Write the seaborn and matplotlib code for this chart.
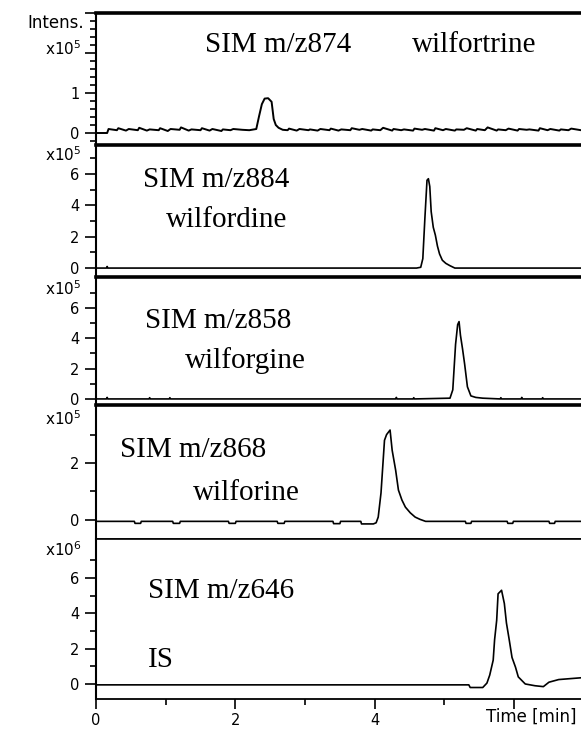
import matplotlib
matplotlib.use("Agg")
import matplotlib.pyplot as plt
import seaborn as sns
import pandas as pd
from matplotlib.ticker import FixedLocator

# ---------------- data (intensity in units of the panel's x10^n) ----------------
t1 = [0.00, 0.16, 0.18, 0.30, 0.32, 0.43, 0.47, 0.60, 0.62, 0.73, 0.77, 0.90, 0.92, 1.03, 1.07,
      1.20, 1.22, 1.33, 1.37, 1.50, 1.52, 1.63, 1.67, 1.80, 1.82, 1.93, 1.97, 2.10, 2.20, 2.30,
      2.34, 2.38, 2.42, 2.47, 2.52, 2.55, 2.58, 2.62, 2.68, 2.75, 2.77, 2.88, 2.92, 3.05, 3.07,
      3.18, 3.22, 3.35, 3.37, 3.48, 3.52, 3.65, 3.67, 3.78, 3.82, 3.95, 3.97, 4.08, 4.12, 4.25,
      4.27, 4.38, 4.42, 4.55, 4.57, 4.68, 4.72, 4.85, 4.87, 4.98, 5.02, 5.15, 5.17, 5.28, 5.32,
      5.45, 5.47, 5.58, 5.62, 5.75, 5.77, 5.88, 5.92, 6.05, 6.07, 6.18, 6.22, 6.35, 6.37, 6.48,
      6.52, 6.65, 6.67, 6.78, 6.82, 6.96]
y1 = [0.00, 0.00, 0.10, 0.07, 0.12, 0.06, 0.10, 0.07, 0.13, 0.06, 0.09, 0.07, 0.12, 0.05, 0.10,
      0.08, 0.14, 0.06, 0.09, 0.07, 0.12, 0.06, 0.10, 0.05, 0.09, 0.07, 0.10, 0.08, 0.07, 0.10,
      0.42, 0.72, 0.86, 0.87, 0.78, 0.35, 0.20, 0.13, 0.08, 0.07, 0.11, 0.06, 0.10, 0.07, 0.09,
      0.06, 0.10, 0.07, 0.11, 0.06, 0.09, 0.07, 0.12, 0.08, 0.10, 0.06, 0.09, 0.07, 0.13, 0.06,
      0.10, 0.07, 0.09, 0.06, 0.11, 0.08, 0.10, 0.06, 0.12, 0.07, 0.10, 0.06, 0.09, 0.08, 0.12,
      0.06, 0.10, 0.07, 0.14, 0.06, 0.09, 0.07, 0.11, 0.06, 0.10, 0.08, 0.09, 0.06, 0.12, 0.07,
      0.10, 0.06, 0.09, 0.07, 0.11, 0.07]

t2 = [0.00, 0.15, 0.16, 0.17, 4.60, 4.66, 4.69, 4.72, 4.75, 4.77, 4.79, 4.81, 4.84, 4.87,
      4.90, 4.93, 4.97, 5.02, 5.08, 5.15, 6.96]
y2 = [0.00, 0.00, 0.10, 0.00, 0.00, 0.05, 0.60, 3.20, 5.60, 5.70, 5.20, 3.60, 2.60, 2.10,
      1.40, 0.90, 0.50, 0.30, 0.15, 0.00, 0.00]

t3 = [0.00, 0.15, 0.16, 0.17, 0.76, 0.77, 0.78, 1.05, 1.06, 1.07, 4.30, 4.31, 4.32, 4.55,
      4.56, 4.57, 5.08, 5.12, 5.16, 5.19, 5.21, 5.23, 5.26, 5.29, 5.33, 5.38, 5.45, 5.55,
      5.80, 5.81, 5.82, 6.10, 6.11, 6.12, 6.40, 6.41, 6.42, 6.96]
y3 = [0.00, 0.00, 0.10, 0.00, 0.00, 0.08, 0.00, 0.00, 0.08, 0.00, 0.00, 0.10, 0.00, 0.00,
      0.08, 0.00, 0.05, 0.60, 3.60, 4.90, 5.10, 4.20, 3.30, 2.30, 0.80, 0.20, 0.10, 0.05,
      0.00, 0.08, 0.00, 0.00, 0.10, 0.00, 0.00, 0.08, 0.00, 0.00]

t4 = [0.00, 0.55, 0.56, 0.64, 0.65, 1.10, 1.11, 1.20, 1.21, 1.90, 1.91, 2.00, 2.01, 2.60,
      2.61, 2.70, 2.71, 3.40, 3.41, 3.50, 3.51, 3.80, 3.81, 3.98, 4.02, 4.05, 4.09, 4.14,
      4.17, 4.22, 4.25, 4.30, 4.34, 4.39, 4.44, 4.51, 4.58, 4.65, 4.73, 5.30, 5.31, 5.38,
      5.39, 5.90, 5.91, 5.98, 5.99, 6.50, 6.51, 6.58, 6.59, 6.96]
y4 = [-0.05, -0.05, -0.12, -0.12, -0.05, -0.05, -0.12, -0.12, -0.05, -0.05, -0.12, -0.12,
      -0.05, -0.05, -0.12, -0.12, -0.05, -0.05, -0.13, -0.13, -0.05, -0.05, -0.14, -0.14,
      -0.10, 0.10, 0.95, 2.80, 3.00, 3.16, 2.45, 1.75, 1.05, 0.70, 0.45, 0.25, 0.10, 0.02,
      -0.05, -0.05, -0.12, -0.12, -0.05, -0.05, -0.12, -0.12, -0.05, -0.05, -0.12, -0.12,
      -0.05, -0.05]

t5 = [0.00, 5.35, 5.37, 5.55, 5.61, 5.65, 5.70, 5.72, 5.75, 5.77, 5.82, 5.86, 5.89, 5.93,
      5.97, 6.02, 6.06, 6.16, 6.30, 6.42, 6.50, 6.64, 6.80, 6.96]
y5 = [-0.05, -0.05, -0.20, -0.20, 0.05, 0.50, 1.35, 2.50, 3.60, 5.10, 5.30, 4.55, 3.45,
      2.50, 1.50, 0.95, 0.40, 0.00, -0.10, -0.15, 0.10, 0.25, 0.30, 0.35]

times = [t1, t2, t3, t4, t5]
intens = [y1, y2, y3, y4, y5]

ylims = [(-0.3, 3.0), (-0.57, 7.85), (-0.4, 8.04), (-0.67, 4.04), (-0.85, 8.2)]
major_y = [[0, 1, 2, 3], [0, 2, 4, 6], [0, 2, 4, 6], [0, 2], [0, 2, 4, 6]]
minor_y = [[-0.2, 0.2, 0.4, 0.6, 0.8, 1.2, 1.4, 1.6, 1.8, 2.2, 2.4, 2.6, 2.8],
           [1, 3, 5, 7], [1, 3, 5, 7], [1, 3], [1, 3, 5, 7]]
y_labels = [["0", "1", "", ""], ["0", "2", "4", "6"], ["0", "2", "4", "6"], ["0", "2"],
            ["0", "2", "4", "6"]]
exponents = ["5", "5", "5", "5", "6"]
exp_y = [2.1, 7.25, 7.25, 3.55, 7.6]

x_major = [0, 2, 4, 6]
x_minor = [1, 3, 5]
x_labels = ["0", "2", "4", ""]

# annotations: (text, x_px, baseline_y_px)
annots = [("SIM m/z874", 205, 52), ("wilfortrine", 412, 52),
          ("SIM m/z884", 143, 187), ("wilfordine", 166, 227),
          ("SIM m/z858", 145, 328), ("wilforgine", 185, 368),
          ("SIM m/z868", 120, 457), ("wilforine", 193, 500),
          ("SIM m/z646", 148, 598), ("IS", 148, 667)]

# ---------------- plotting ----------------
sns.set_theme(style="ticks")
plt.rcParams["font.family"] = ["DejaVu Sans"]

W, H = 581, 730
fig = plt.figure(figsize=(W / 100, H / 100), dpi=100)
heights = [132, 132, 128, 134, 160]
gs = fig.add_gridspec(5, 1, height_ratios=heights, hspace=0,
                      left=96 / W, right=1.0, top=1 - 13 / H, bottom=1 - 699 / H)

for i in range(5):
    ax = fig.add_subplot(gs[i])
    df = pd.DataFrame({"t": times[i], "y": intens[i]})
    sns.lineplot(data=df, x="t", y="y", ax=ax, color="black", lw=1.4 if i == 0 else 1.2,
                 estimator=None, sort=False)
    ax.set_xlim(0, 6.96)
    ax.set_ylim(*ylims[i])
    ax.set_xlabel("")
    ax.set_ylabel("")
    ax.yaxis.set_major_locator(FixedLocator(major_y[i]))
    ax.yaxis.set_minor_locator(FixedLocator(minor_y[i]))
    ax.set_yticklabels(y_labels[i])
    ax.tick_params(axis="y", which="major", length=8, width=1.2, direction="out",
                   labelsize=10.5, pad=4, color="black", labelcolor="black")
    ax.tick_params(axis="y", which="minor", length=4, width=1.2, direction="out", color="black")
    ax.spines["right"].set_visible(False)
    ax.spines["left"].set_linewidth(1.5)
    ax.spines["left"].set_color("black")
    ax.spines["top"].set_color("black")
    ax.spines["bottom"].set_color("black")
    if i < 4:
        ax.spines["top"].set_linewidth(2.6)
        ax.spines["bottom"].set_linewidth(1.2)
        ax.set_xticks([])
    else:
        ax.spines["top"].set_linewidth(1.2)
        ax.spines["bottom"].set_linewidth(1.3)
        ax.xaxis.set_major_locator(FixedLocator(x_major))
        ax.xaxis.set_minor_locator(FixedLocator(x_minor))
        ax.set_xticklabels(x_labels)
        ax.tick_params(axis="x", which="major", length=7, width=1.2, direction="out",
                       labelsize=10.5, pad=3, color="black", labelcolor="black")
        ax.tick_params(axis="x", which="minor", length=4, width=1.2, direction="out",
                       color="black")
    ax.text(-0.03, exp_y[i], r"x10$^{%s}$" % exponents[i], transform=ax.get_yaxis_transform(),
            ha="right", va="center", fontsize=11, color="black")
    if i == 0:
        ax.text(-0.025, 2.75, "Intens.", transform=ax.get_yaxis_transform(),
                ha="right", va="center", fontsize=12, color="black")

for txt, xp, yp in annots:
    fig.text(xp / W, 1 - yp / H, txt, fontsize=21, family="Liberation Serif",
             ha="left", va="baseline", color="black")

fig.text(576 / W, 1 - 722 / H, "Time [min]", fontsize=12, ha="right", va="baseline",
         color="black")

fig.savefig("out.png", dpi=100)
